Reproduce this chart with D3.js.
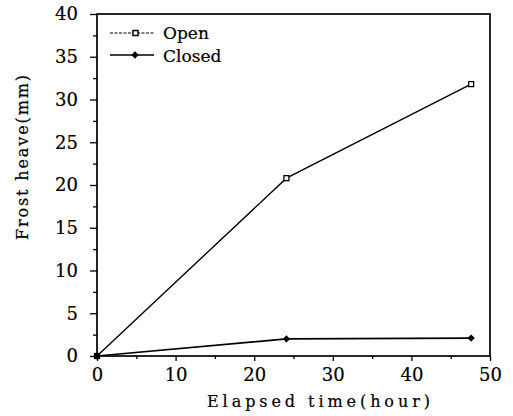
<!DOCTYPE html>
<html>
<head>
<meta charset="utf-8">
<script src="https://cdn.jsdelivr.net/npm/d3@7"></script>
<style>
  body { margin: 0; background: #fff; }
  svg text { font-family: "DejaVu Serif", serif; fill: #000; stroke: #000; stroke-width: 0.2px; }
</style>
</head>
<body>
<script>
const hours = [0, 24.1, 47.6];
const openHeave = [0, 20.8, 31.8];
const closedHeave = [0, 2.0, 2.1];
const xTicks = [0, 10, 20, 30, 40, 50];
const yTicks = [0, 5, 10, 15, 20, 25, 30, 35, 40];

const svg = d3.select("body").append("svg")
    .attr("width", 513)
    .attr("height", 416);

const x = d3.scaleLinear().domain([0, 50]).range([97, 490]);
const y = d3.scaleLinear().domain([0, 40]).range([356, 14]);

// cadre
svg.append("rect")
    .attr("x", x(0)).attr("y", y(40))
    .attr("width", x(50) - x(0)).attr("height", y(0) - y(40))
    .attr("fill", "none").attr("stroke", "#000").attr("stroke-width", 1.7);

// petites graduations
svg.append("g")
    .attr("transform", `translate(0,${y(0)})`)
    .call(d3.axisBottom(x).tickValues(d3.range(5, 50, 10)).tickSize(3).tickFormat(""))
    .call(g => g.select(".domain").remove());
svg.append("g")
    .attr("transform", `translate(${x(0)},0)`)
    .call(d3.axisLeft(y).tickValues(d3.range(2.5, 40, 5)).tickSize(4).tickFormat(""))
    .call(g => g.select(".domain").remove());

// axes
svg.append("g")
    .attr("transform", `translate(0,${y(0)})`)
    .call(d3.axisBottom(x).tickValues(xTicks).tickSize(5).tickPadding(7))
    .call(g => g.select(".domain").remove())
    .selectAll("text").style("font-size", "18px").attr("font-family", null);
svg.append("g")
    .attr("transform", `translate(${x(0)},0)`)
    .call(d3.axisLeft(y).tickValues(yTicks).tickSize(7).tickPadding(12))
    .call(g => g.select(".domain").remove())
    .selectAll("text").style("font-size", "18px");

svg.selectAll(".tick line").attr("stroke-width", 1.3);
svg.selectAll("g").attr("font-family", null);

// titres des axes
svg.append("text")
    .attr("x", 207).attr("y", 407)
    .attr("textLength", 223)
    .attr("lengthAdjust", "spacing")
    .style("font-size", "16px")
    .text("Elapsed time(hour)");
svg.append("text")
    .attr("transform", "translate(28,240) rotate(-90)")
    .attr("textLength", 165)
    .attr("lengthAdjust", "spacing")
    .style("font-size", "16px")
    .text("Frost heave(mm)");

const line = d3.line()
    .x((d, i) => x(hours[i]))
    .y(d => y(d));

svg.append("path").datum(openHeave)
    .attr("d", line).attr("fill", "none")
    .attr("stroke", "#000").attr("stroke-width", 1.4);
svg.append("path").datum(closedHeave)
    .attr("d", line).attr("fill", "none")
    .attr("stroke", "#000").attr("stroke-width", 1.7);

svg.selectAll("rect.open").data(openHeave).enter().append("rect")
    .attr("class", "open")
    .attr("x", (d, i) => x(hours[i]) - 2.5)
    .attr("y", d => y(d) - 2.5)
    .attr("width", 5).attr("height", 5)
    .attr("fill", "#fff").attr("stroke", "#000").attr("stroke-width", 1.3);

const diamond = d3.symbol().type(d3.symbolDiamond2).size(34);
svg.selectAll("path.closed").data(closedHeave).enter().append("path")
    .attr("class", "closed")
    .attr("d", diamond)
    .attr("transform", (d, i) => `translate(${x(hours[i])},${y(d)})`)
    .attr("fill", "#000");

// légende
const leg = svg.append("g");
leg.append("line").attr("x1", 110).attr("x2", 154).attr("y1", 33).attr("y2", 33)
    .attr("stroke", "#000").attr("stroke-width", 1.1).attr("stroke-dasharray", "3,1.5");
leg.append("rect").attr("x", 133).attr("y", 30.5).attr("width", 5).attr("height", 5)
    .attr("fill", "#fff").attr("stroke", "#000").attr("stroke-width", 1.5);
leg.append("text").attr("x", 163).attr("y", 39).style("font-size", "17px").text("Open");
leg.append("line").attr("x1", 110).attr("x2", 154).attr("y1", 55).attr("y2", 55)
    .attr("stroke", "#000").attr("stroke-width", 1.5);
leg.append("path").attr("d", diamond).attr("transform", "translate(135,55)").attr("fill", "#000");
leg.append("text").attr("x", 163).attr("y", 62).style("font-size", "17px").text("Closed");
</script>
</body>
</html>
